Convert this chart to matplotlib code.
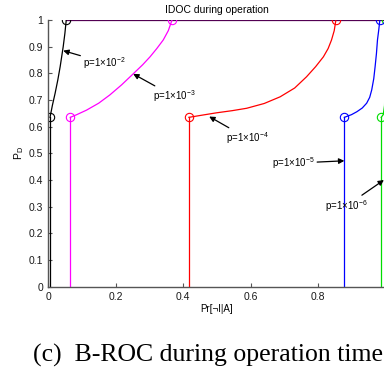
import numpy as np
import matplotlib
matplotlib.use("Agg")
import matplotlib.pyplot as plt

plt.rcParams['font.family'] = ['Liberation Sans', 'DejaVu Sans']
plt.rcParams['mathtext.fontset'] = 'custom'
plt.rcParams['mathtext.rm'] = 'Liberation Sans'
plt.rcParams['mathtext.it'] = 'Liberation Sans:italic'

# curves: vertical part at x_start up to 0.635, then the curve up to P_D = 1
labels = ["p=1×10$^{-2}$", "p=1×10$^{-3}$", "p=1×10$^{-4}$", "p=1×10$^{-5}$", "p=1×10$^{-6}$"]
colors = ["black", "magenta", "red", "blue", "#00dd00"]
top_color = "#520052"

black_x = [0.006, 0.013, 0.021, 0.029, 0.036, 0.045, 0.050, 0.054]
black_y = [0.635, 0.680, 0.725, 0.775, 0.825, 0.900, 0.950, 1.000]
magenta_x = [0.066, 0.085, 0.114, 0.150, 0.183, 0.218, 0.252, 0.280, 0.302, 0.322, 0.341, 0.356, 0.367]
magenta_y = [0.635, 0.645, 0.662, 0.688, 0.719, 0.757, 0.798, 0.832, 0.862, 0.893, 0.925, 0.960, 1.000]
red_x = [0.417, 0.460, 0.499, 0.545, 0.588, 0.640, 0.687, 0.730, 0.765, 0.792, 0.815, 0.829, 0.839, 0.847, 0.852]
red_y = [0.635, 0.644, 0.652, 0.660, 0.669, 0.687, 0.712, 0.745, 0.787, 0.825, 0.862, 0.893, 0.925, 0.960, 1.000]
blue_x = [0.877, 0.898, 0.914, 0.930, 0.943, 0.952, 0.958, 0.964, 0.968, 0.972, 0.975, 0.979, 0.982]
blue_y = [0.635, 0.645, 0.656, 0.670, 0.688, 0.710, 0.738, 0.780, 0.825, 0.875, 0.925, 0.965, 1.000]
green_x = [0.986, 0.992, 0.996, 0.998, 0.999]
green_y = [0.635, 0.645, 0.680, 0.800, 1.000]

xs = [black_x, magenta_x, red_x, blue_x, green_x]
ys = [black_y, magenta_y, red_y, blue_y, green_y]

# where the labels sit and where the arrows point
text_xy = [(0.104, 0.84), (0.31, 0.713), (0.527, 0.556), (0.662, 0.463), (0.82, 0.303)]
arrow_xy = [(0.045, 0.885), (0.252, 0.798), (0.477, 0.638), (0.877, 0.472), (0.994, 0.40)]

fig = plt.figure(figsize=(3.84, 3.73), dpi=100)
ax = fig.add_axes([0.125, 0.2314, 0.880, 0.715])

lw = 0.9
for i in [4, 3, 2, 1, 0]:
    x, y, c = xs[i], ys[i], colors[i]
    ax.plot([x[0], x[0]], [0, y[0]], color=c, lw=lw)
    ax.plot(x, y, color=c, lw=lw)
    ax.plot([x[0], x[-1]], [y[0], y[-1]], 'o', mfc='none', mec=c, ms=6, mew=0.8)
# all curves run on along P_D = 1; the overlap reads as dark purple
ax.plot([black_x[-1], 1], [1, 1], color=top_color, lw=lw, zorder=1.9)

for lab, t, a in zip(labels, text_xy, arrow_xy):
    ax.annotate(lab, xy=a, xytext=t, fontsize=7, va='center', ha='left',
                arrowprops=dict(arrowstyle='-|>', color='black', lw=0.9,
                                mutation_scale=8, shrinkA=0, shrinkB=0))

ax.set_xlim(0, 1)
ax.set_ylim(0, 1)
ax.set_xticks(np.arange(0, 1.01, 0.2))
ax.set_xticklabels(["0", "0.2", "0.4", "0.6", "0.8", ""])
ax.set_yticks(np.arange(0, 1.01, 0.1))
ax.set_yticklabels(["0", "0.1", "0.2", "0.3", "0.4", "0.5", "0.6", "0.7", "0.8", "0.9", "1"])
ax.tick_params(direction='in', length=3, labelsize=7.5, colors='#555555', labelcolor='#1a1a1a')
for s in ['top', 'right']:
    ax.spines[s].set_visible(False)
for s in ['left', 'bottom']:
    ax.spines[s].set_color('#555555')
    ax.spines[s].set_linewidth(1.0)

ax.set_title("IDOC during operation", fontsize=7.5, pad=5)
ax.set_xlabel("Pr[¬I|A]", fontsize=7, labelpad=2)
ax.set_ylabel("P$_\\mathrm{D}$", fontsize=7.5, labelpad=2)

fig.text(0.086, 0.03, "(c)  B-ROC during operation time", fontsize=18.5,
         family=['Liberation Serif', 'DejaVu Serif'], ha='left', va='baseline')

fig.savefig("out.png", dpi=100)
